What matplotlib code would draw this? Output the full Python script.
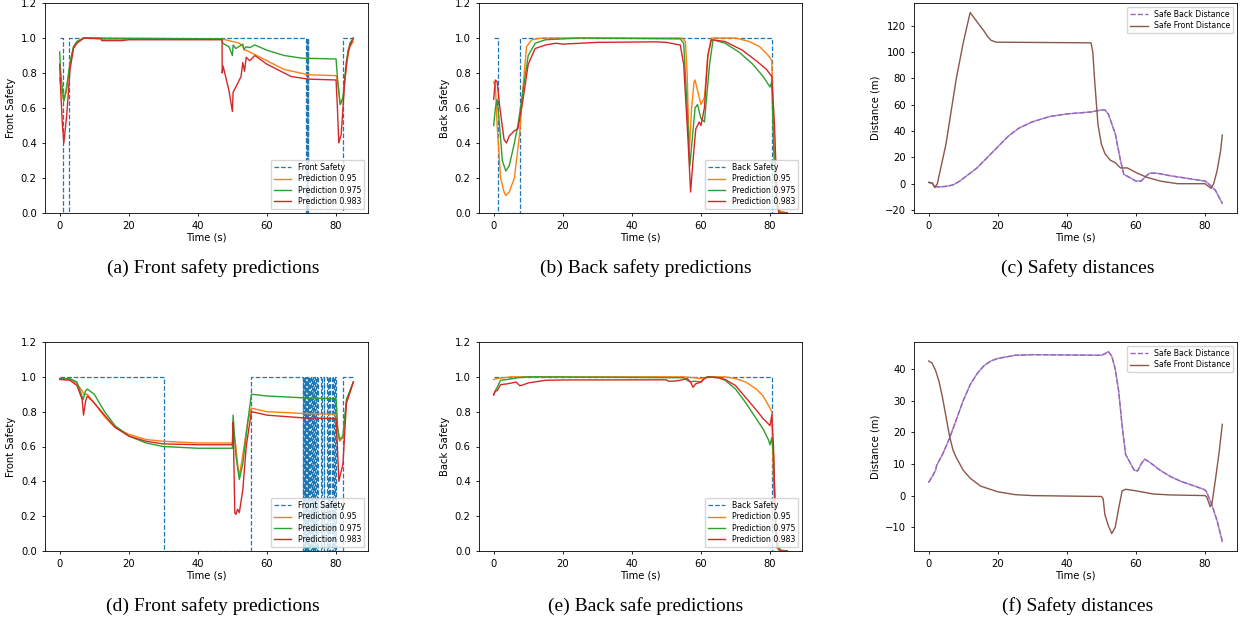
import numpy as np
import matplotlib.pyplot as plt

## ---- data ----
# (a) front safety, run 1
gt_a_t = [0, 1.0, 2.6, 71.4, 71.6, 71.7, 71.9, 72.0, 82.1, 85]
gt_a_v = [1, 0, 1, 0, 1, 0, 1, 0, 1, 1]
p95_a_t = [0, 0.5, 1.2, 2, 3, 4, 5, 7, 12, 12.2, 18, 20, 47, 48, 50, 52, 53, 53.5, 54, 56, 60, 65, 72, 80, 80.5, 81.2, 82, 83, 84, 85]
p95_a_v = [0.77, 0.7, 0.64, 0.7, 0.85, 0.95, 0.98, 1.0, 1.0, 0.99, 0.99, 0.995, 0.995, 0.99, 0.98, 0.97, 0.955, 0.93, 0.93, 0.91, 0.87, 0.82, 0.79, 0.785, 0.75, 0.62, 0.65, 0.85, 0.95, 0.98]
p975_a_t = [0, 0.3, 1.2, 2, 3, 4, 5, 7, 47, 47.2, 49, 50, 50.2, 51, 53, 53.3, 54, 55, 56.5, 60, 65, 70, 80, 80.5, 81.2, 82, 83, 84, 85]
p975_a_v = [0.92, 0.8, 0.64, 0.72, 0.86, 0.95, 0.98, 1.0, 0.995, 0.97, 0.95, 0.90, 0.96, 0.94, 0.965, 0.935, 0.95, 0.945, 0.96, 0.93, 0.9, 0.885, 0.88, 0.75, 0.62, 0.66, 0.87, 0.97, 1.0]
p983_a_t = [0, 0.3, 0.8, 1.2, 2, 3, 4, 5, 7, 12, 12.2, 18, 20, 47, 47.05, 47.3, 49, 50, 50.2, 51, 52.5, 53, 53.5, 54, 55, 56.5, 60, 67, 72, 80, 80.4, 80.8, 81.5, 82.5, 83.5, 85]
p983_a_v = [0.85, 0.7, 0.5, 0.40, 0.55, 0.82, 0.94, 0.97, 1.0, 0.995, 0.985, 0.985, 0.99, 0.99, 0.80, 0.84, 0.70, 0.58, 0.69, 0.72, 0.78, 0.86, 0.81, 0.89, 0.87, 0.90, 0.85, 0.78, 0.765, 0.76, 0.6, 0.40, 0.45, 0.75, 0.93, 1.0]

# (b) back safety, run 1
gt_b_t = [0, 1.2, 7.6, 80.6, 85]
gt_b_v = [1, 0, 1, 0, 0]
p95_b_t = [0, 0.5, 1, 2, 3, 3.5, 4.5, 6, 7.5, 8.5, 9.5, 11, 14, 54.5, 55.5, 56, 56.6, 57.3, 58, 58.3, 59, 60, 61, 62, 63, 70, 74, 77, 79.5, 80.5, 81, 81.5, 82, 83, 85]
p95_b_v = [0.75, 0.72, 0.5, 0.2, 0.12, 0.10, 0.12, 0.2, 0.45, 0.72, 0.95, 0.99, 1.0, 1.0, 0.98, 0.8, 0.35, 0.6, 0.75, 0.76, 0.7, 0.62, 0.66, 0.9, 1.0, 1.0, 0.98, 0.95, 0.9, 0.87, 0.5, 0.2, 0.05, 0.01, 0.0]
p975_b_t = [0, 0.5, 1, 1.7, 2.5, 3.5, 4.5, 6, 7, 8.5, 10, 12, 15, 25, 54, 55, 56, 56.8, 57.6, 58.3, 59, 60, 61, 62.5, 63.5, 67, 71, 75, 78, 80, 80.5, 81, 81.5, 82, 83, 85]
p975_b_v = [0.5, 0.6, 0.65, 0.5, 0.3, 0.24, 0.27, 0.4, 0.5, 0.7, 0.9, 0.97, 0.99, 1.0, 0.995, 0.97, 0.6, 0.27, 0.45, 0.6, 0.62, 0.54, 0.52, 0.85, 0.99, 0.97, 0.92, 0.85, 0.78, 0.72, 0.75, 0.4, 0.15, 0.03, 0.0, 0.0]
p983_b_t = [0, 0.5, 1, 1.8, 3, 3.7, 4.5, 6, 7, 8.5, 10, 12, 15, 18, 20, 30, 47, 50, 54, 55, 56.3, 57, 57.7, 58.5, 59.5, 60, 61, 62, 63, 67, 72, 76, 79, 80.5, 81.3, 82, 82.5, 85]
p983_b_v = [0.65, 0.76, 0.75, 0.6, 0.42, 0.40, 0.44, 0.47, 0.48, 0.65, 0.85, 0.94, 0.96, 0.97, 0.965, 0.975, 0.978, 0.975, 0.96, 0.85, 0.4, 0.12, 0.3, 0.48, 0.52, 0.5, 0.6, 0.9, 0.99, 0.98, 0.93, 0.87, 0.82, 0.78, 0.5, 0.1, 0.0, 0.0]

# (c) safety distances, run 1
back_c_t = [0, 1, 1.8, 3, 5, 7, 9, 12, 14, 17, 20, 23, 26, 30, 35, 40, 47, 50, 51, 52, 54, 55.5, 56.5, 58, 60, 61.5, 63, 64, 66, 70, 80, 81, 83, 85]
back_c_v = [1, 0.5, -2, -2.5, -2, -1, 2, 8, 12, 20, 28, 36, 42, 47, 51, 53, 54.5, 56, 56, 53, 38, 18, 7, 5, 2, 2, 6, 8, 8, 6, 2, 0, -5, -15]
front_c_t = [0, 1, 1.8, 2.5, 5, 8, 10, 12, 14, 16, 17, 18, 19.5, 47, 47.5, 48, 49, 50, 51, 52.5, 54, 55.5, 57.5, 60, 63, 67, 72, 80, 81, 81.7, 82.5, 83.5, 84.5, 85]
front_c_v = [1, 0.5, -3, 0, 30, 80, 107, 130, 123, 116, 112, 109, 107.5, 107, 100, 80, 45, 30, 23, 18, 16, 12, 12, 8.5, 5, 2, 0, 0, -2, -3.5, 0, 10, 25, 37]

# (d) front safety, run 2
gt_d_t = [0, 30.2, 55.5, 70.3, 70.5, 70.7, 70.9, 71.1, 71.3, 71.6, 71.8, 72.0, 72.2, 72.5, 72.7, 72.9, 73.2, 73.4, 73.7, 73.9, 74.2, 74.5, 74.8, 75.7, 75.9, 76.4, 76.6, 77.4, 77.6, 78.0, 78.2, 78.8, 79.0, 79.5, 79.7, 80.0, 82.1, 85]
gt_d_v = [1, 0, 1, 0, 1, 0, 1, 0, 1, 0, 1, 0, 1, 0, 1, 0, 1, 0, 1, 0, 1, 0, 1, 0, 1, 0, 1, 0, 1, 0, 1, 0, 1, 0, 1, 0, 1, 1]
p95_d_t = [0, 3, 5, 6.5, 7, 8, 10, 13, 16, 20, 25, 30, 40, 50, 50.5, 51, 51.5, 52, 53, 54.5, 55.5, 60, 70, 80, 80.5, 81, 82, 83, 85]
p95_d_v = [0.99, 0.985, 0.96, 0.92, 0.90, 0.90, 0.85, 0.77, 0.71, 0.67, 0.64, 0.63, 0.62, 0.62, 0.66, 0.6, 0.5, 0.43, 0.55, 0.75, 0.82, 0.80, 0.79, 0.785, 0.7, 0.63, 0.65, 0.85, 0.97]
p975_d_t = [0, 3, 5, 6.8, 7.5, 8, 10, 13, 16, 20, 25, 30, 40, 50, 50.2, 51, 52, 53, 54.5, 55.5, 60, 70, 80, 80.5, 81, 82, 83, 85]
p975_d_v = [0.99, 0.99, 0.97, 0.87, 0.92, 0.93, 0.90, 0.80, 0.72, 0.66, 0.62, 0.60, 0.59, 0.59, 0.78, 0.55, 0.41, 0.5, 0.75, 0.90, 0.89, 0.88, 0.875, 0.7, 0.64, 0.66, 0.87, 0.97]
p983_d_t = [0, 3, 5, 6.5, 6.9, 7.5, 8, 10, 13, 16, 20, 25, 30, 40, 50, 50.2, 50.7, 51, 51.5, 52, 53, 54, 55.5, 60, 70, 80, 80.4, 80.8, 82, 83, 85]
p983_d_v = [0.985, 0.98, 0.95, 0.87, 0.78, 0.86, 0.89, 0.85, 0.78, 0.71, 0.66, 0.63, 0.615, 0.61, 0.61, 0.74, 0.22, 0.21, 0.24, 0.22, 0.35, 0.6, 0.80, 0.78, 0.765, 0.76, 0.6, 0.40, 0.5, 0.85, 0.97]

# (e) back safety, run 2
gt_e_t = [0, 80.6, 85]
gt_e_v = [1, 0, 0]
p95_e_t = [0, 1, 3, 5, 55, 58, 60, 62, 67, 70, 73, 76, 78, 80, 80.5, 81, 81.5, 82, 83, 85]
p95_e_v = [0.985, 0.99, 0.995, 1.0, 1.0, 0.995, 0.99, 1.0, 1.0, 0.99, 0.97, 0.93, 0.89, 0.82, 0.8, 0.4, 0.15, 0.02, 0.0, 0.0]
p975_e_t = [0, 1, 2, 4, 7, 10, 55, 56, 57, 58, 60, 61, 62, 65, 67, 70, 73, 76, 78, 79.5, 80, 80.5, 81, 81.5, 82, 83, 85]
p975_e_v = [0.9, 0.94, 0.98, 0.985, 0.995, 1.0, 0.995, 0.98, 0.97, 0.975, 0.97, 0.99, 1.0, 0.995, 0.98, 0.93, 0.85, 0.76, 0.7, 0.64, 0.61, 0.65, 0.55, 0.25, 0.05, 0.005, 0.0]
p983_e_t = [0, 0.5, 1, 2, 4, 6.5, 7.5, 8, 10, 15, 20, 50, 50.5, 52, 54, 56, 57, 57.7, 58.5, 60, 61, 62, 65, 67, 70, 73, 76, 78, 80, 80.5, 81, 81.5, 82, 83, 85]
p983_e_v = [0.895, 0.92, 0.92, 0.955, 0.96, 0.97, 0.95, 0.95, 0.965, 0.98, 0.982, 0.983, 0.975, 0.975, 0.98, 0.99, 0.97, 0.94, 0.96, 0.97, 0.99, 1.0, 0.995, 0.985, 0.95, 0.88, 0.81, 0.76, 0.72, 0.78, 0.6, 0.2, 0.02, 0.0, 0.0]

# (f) safety distances, run 2
back_f_t = [0, 1, 2, 2.3, 4, 6, 8, 10, 12, 14, 16, 18, 20, 25, 30, 40, 50, 51, 52, 53, 54, 55, 56, 57, 58, 59.5, 60.5, 61.5, 62.5, 64, 67, 70, 73, 77, 80, 80.5, 82, 83.5, 85]
back_f_v = [4.2, 6, 8, 9.5, 13, 18, 24, 30, 35, 38.5, 41, 42.5, 43.3, 44.3, 44.5, 44.4, 44.3, 44.8, 45.5, 44, 40, 33, 22, 13, 11, 8, 7.8, 10, 11.5, 10.5, 8, 6, 4.5, 3, 1.8, 1, -3, -8, -14.5]
front_f_t = [0, 1, 2, 3, 4, 5, 6, 7, 8, 10, 12, 15, 20, 25, 30, 50, 50.5, 51, 52, 53, 54, 55, 56, 57, 60, 65, 70, 80, 80.5, 81.5, 82, 83, 84, 85]
front_f_v = [42.5, 41.8, 39.5, 36, 31, 25, 19, 14.5, 12, 8, 5.5, 3, 1.2, 0.3, 0, -0.3, -1, -6, -9.5, -12, -10, -4, 1.5, 2, 1.5, 0.5, 0.2, 0, -0.5, -3.5, -2.5, 5, 13, 22.5]

captions = ["(a) Front safety predictions", "(b) Back safety predictions", "(c) Safety distances",
            "(d) Front safety predictions", "(e) Back safe predictions", "(f) Safety distances"]

## ---- style ----
plt.rcParams['font.size'] = 7.2
plt.rcParams['axes.linewidth'] = 0.6
plt.rcParams['xtick.major.width'] = 0.6
plt.rcParams['ytick.major.width'] = 0.6
plt.rcParams['xtick.major.size'] = 2.5
plt.rcParams['ytick.major.size'] = 2.5

fig = plt.figure(figsize=(12.41, 6.25), dpi=100)
W, H = 1241.0, 625.0

def make_ax(left, right, top, bottom):
    return fig.add_axes([left / W, (H - bottom) / H, (right - left) / W, (bottom - top) / H])

lefts = [45, 479, 914]
rights = [368, 802, 1237]

def safety_panel(ax, gt_t, gt_v, preds, gt_label, ylabel):
    ax.plot(gt_t, gt_v, '--', color='C0', lw=0.9, drawstyle='steps-post', label=gt_label)
    names = ["Prediction 0.95", "Prediction 0.975", "Prediction 0.983"]
    for (t, v), c, n in zip(preds, ['C1', 'C2', 'C3'], names):
        ax.plot(t, v, color=c, lw=1.0, label=n)
    ax.set_ylim(0, 1.2)
    ax.set_xlabel("Time (s)", labelpad=1)
    ax.set_ylabel(ylabel, labelpad=3)
    ax.legend(loc='lower right', fontsize=5.6, handlelength=2.2, borderpad=0.4, labelspacing=0.3)

def distance_panel(ax, bt, bv, ft, fv):
    ax.plot(bt, bv, '--', color='C4', lw=1.0, label="Safe Back Distance")
    ax.plot(bt, bv, '-', color='C4', lw=1.0, alpha=0.8)
    ax.plot(ft, fv, '-', color='C5', lw=1.0, label="Safe Front Distance")
    ax.set_xlabel("Time (s)", labelpad=1)
    ax.set_ylabel("Distance (m)", labelpad=3)
    ax.legend(loc='upper right', fontsize=5.6, handlelength=2.2, borderpad=0.4, labelspacing=0.3)

rows = [(3, 213), (342, 551)]

ax = make_ax(lefts[0], rights[0], *rows[0])
safety_panel(ax, gt_a_t, gt_a_v, [(p95_a_t, p95_a_v), (p975_a_t, p975_a_v), (p983_a_t, p983_a_v)], "Front Safety", "Front Safety")
ax = make_ax(lefts[1], rights[1], *rows[0])
safety_panel(ax, gt_b_t, gt_b_v, [(p95_b_t, p95_b_v), (p975_b_t, p975_b_v), (p983_b_t, p983_b_v)], "Back Safety", "Back Safety")
ax = make_ax(lefts[2], rights[2], *rows[0])
distance_panel(ax, back_c_t, back_c_v, front_c_t, front_c_v)

ax = make_ax(lefts[0], rights[0], *rows[1])
safety_panel(ax, gt_d_t, gt_d_v, [(p95_d_t, p95_d_v), (p975_d_t, p975_d_v), (p983_d_t, p983_d_v)], "Front Safety", "Front Safety")
ax = make_ax(lefts[1], rights[1], *rows[1])
safety_panel(ax, gt_e_t, gt_e_v, [(p95_e_t, p95_e_v), (p975_e_t, p975_e_v), (p983_e_t, p983_e_v)], "Back Safety", "Back Safety")
ax = make_ax(lefts[2], rights[2], *rows[1])
distance_panel(ax, back_f_t, back_f_v, front_f_t, front_f_v)

## captions under each panel
cap_x = [213, 646, 1078]
cap_y = [268, 606]
for i, cap in enumerate(captions):
    fig.text(cap_x[i % 3] / W, (H - cap_y[i // 3]) / H, cap, ha='center', va='center',
             family='Liberation Serif', fontsize=14)

fig.savefig("out.png", dpi=100)
